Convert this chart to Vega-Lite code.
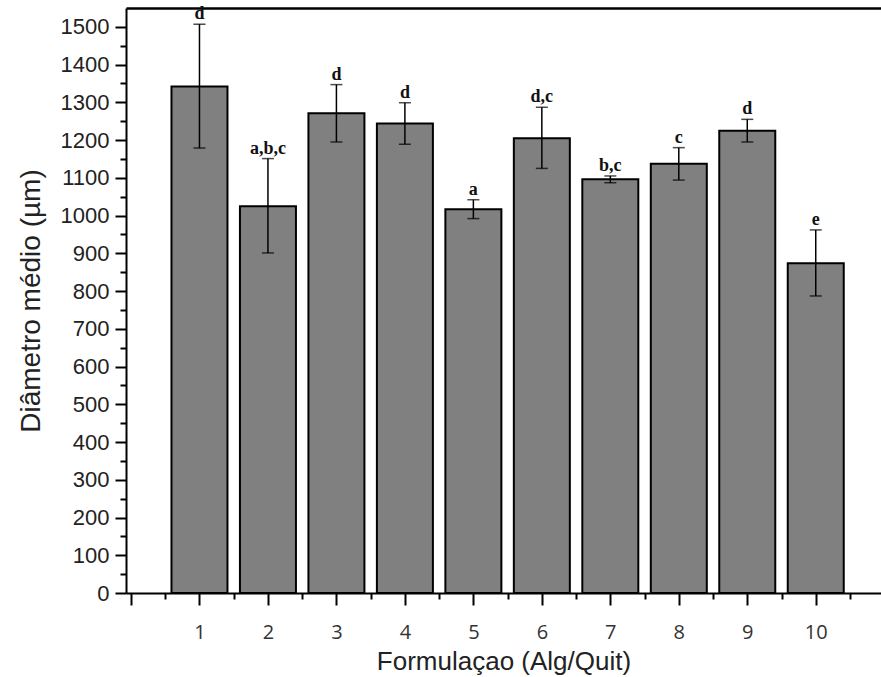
{
  "$schema": "https://vega.github.io/schema/vega-lite/v6.json",
  "width": 755,
  "height": 585,
  "autosize": "none",
  "padding": {"left": 126, "top": 8, "right": 0, "bottom": 84},
  "background": "white",
  "config": {"view": {"stroke": null}},
  "data": {
    "values": [
      {"form": 1, "mean": 1342, "lo": 1179, "hi": 1507, "label": "d"},
      {"form": 2, "mean": 1025, "lo": 901, "hi": 1151, "label": "a,b,c"},
      {"form": 3, "mean": 1271, "lo": 1195, "hi": 1347, "label": "d"},
      {"form": 4, "mean": 1244, "lo": 1189, "hi": 1299, "label": "d"},
      {"form": 5, "mean": 1017, "lo": 992, "hi": 1042, "label": "a"},
      {"form": 6, "mean": 1205, "lo": 1125, "hi": 1287, "label": "d,c"},
      {"form": 7, "mean": 1096, "lo": 1087, "hi": 1105, "label": "b,c"},
      {"form": 8, "mean": 1137, "lo": 1094, "hi": 1180, "label": "c"},
      {"form": 9, "mean": 1225, "lo": 1195, "hi": 1255, "label": "d"},
      {"form": 10, "mean": 874, "lo": 787, "hi": 962, "label": "e"}
    ]
  },
  "layer": [
    {
      "mark": {"type": "bar", "width": 56, "fill": "#808080", "stroke": "#000000", "strokeWidth": 2},
      "encoding": {
        "x": {
          "field": "form", "type": "quantitative",
          "scale": {"domain": [0, 10.88], "nice": false, "zero": false},
          "axis": {
            "orient": "bottom",
            "values": [0, 1, 2, 3, 4, 5, 6, 7, 8, 9, 10],
            "labelExpr": "datum.value == 0 ? '' : datum.label",
            "title": "Formulaçao (Alg/Quit)",
            "titleFont": "Liberation Sans", "titleFontSize": 26, "titleFontWeight": "normal", "titleColor": "#222222",
            "titlePadding": 6,
            "labelFont": "Open Sans", "labelFontSize": 20, "labelColor": "#333333", "labelPadding": 17,
            "tickSize": 12, "tickWidth": 2, "tickColor": "#000000",
            "domainColor": "#000000", "domainWidth": 2, "grid": false
          }
        },
        "y": {
          "field": "mean", "type": "quantitative",
          "scale": {"domain": [0, 1550], "nice": false},
          "axis": {
            "orient": "left",
            "values": [0, 100, 200, 300, 400, 500, 600, 700, 800, 900, 1000, 1100, 1200, 1300, 1400, 1500],
            "format": "d",
            "title": "Diâmetro médio (µm)",
            "titleFont": "Liberation Sans", "titleFontSize": 28, "titleFontWeight": "normal", "titleColor": "#222222",
            "titlePadding": 15,
            "labelFont": "Liberation Sans", "labelFontSize": 22, "labelColor": "#222222", "labelPadding": 6,
            "tickSize": 11, "tickWidth": 2, "tickColor": "#000000",
            "domainColor": "#000000", "domainWidth": 2, "grid": false
          }
        }
      }
    },
    {
      "mark": {
        "type": "errorbar",
        "ticks": {"size": 12, "thickness": 1.5, "color": "#000000"},
        "rule": {"strokeWidth": 1.5, "color": "#000000"}
      },
      "encoding": {
        "x": {
          "field": "form", "type": "quantitative",
          "axis": {"orient": "top", "ticks": false, "labels": false, "title": null, "domainColor": "#000000", "domainWidth": 2.5, "grid": false}
        },
        "y": {"field": "lo", "type": "quantitative", "axis": null},
        "y2": {"field": "hi"}
      }
    },
    {
      "mark": {"type": "text", "font": "Liberation Serif", "fontWeight": "bold", "fontSize": 18, "color": "#111111", "baseline": "alphabetic", "dy": -5},
      "encoding": {
        "x": {
          "field": "form", "type": "quantitative",
          "axis": {
            "orient": "bottom",
            "values": [0.5, 1.5, 2.5, 3.5, 4.5, 5.5, 6.5, 7.5, 8.5, 9.5, 10.5],
            "labels": false, "title": null, "domain": false, "grid": false,
            "tickSize": 6, "tickWidth": 2, "tickColor": "#000000"
          }
        },
        "y": {
          "field": "hi", "type": "quantitative",
          "axis": {
            "orient": "left",
            "values": [50, 150, 250, 350, 450, 550, 650, 750, 850, 950, 1050, 1150, 1250, 1350, 1450],
            "labels": false, "title": null, "domain": false, "grid": false,
            "tickSize": 6, "tickWidth": 2, "tickColor": "#000000"
          }
        },
        "text": {"field": "label"}
      }
    }
  ],
  "resolve": {"axis": {"x": "independent", "y": "independent"}}
}
